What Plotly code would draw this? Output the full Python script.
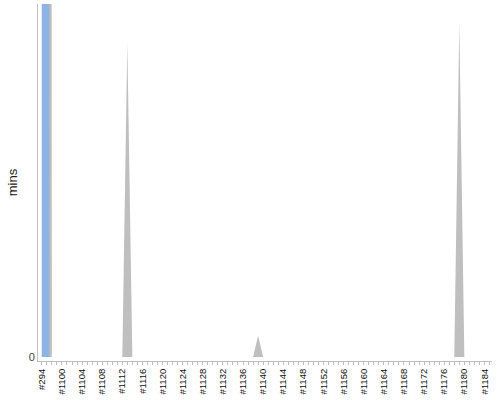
import plotly.graph_objects as go

# builds on the x axis: one old build, then a consecutive run
builds = ["#294"] + ["#%d" % n for n in range(1097, 1186)]

# minutes per build (first two go far off the top)
waiting = [2400, 2400] + [0] * (len(builds) - 2)
building = [0] * len(builds)
building[0] = 2400
building[1] = 2400
building[builds.index("#1113")] = 89
building[builds.index("#1139")] = 6
building[builds.index("#1179")] = 94.6

tick_text = [b if i % 4 == 0 else "" for i, b in enumerate(builds)]

fig = go.Figure()
fig.add_trace(go.Scatter(x=builds, y=building, name="building", mode="none",
                         fill="tozeroy", fillcolor="#bfbfbf"))
fig.add_trace(go.Scatter(x=builds, y=waiting, name="waiting", mode="none",
                         fill="tozeroy", fillcolor="#8db4e2", line_shape="hvh"))

fig.update_layout(
    width=500, height=400,
    margin=dict(l=38, r=8, t=4, b=39),
    paper_bgcolor="white", plot_bgcolor="white",
    showlegend=False,
    font=dict(family="Liberation Sans, Arial, sans-serif", color="#222222"),
)
fig.update_xaxes(
    type="category", range=[-0.76, 89.5], automargin=False,
    tickmode="array", tickvals=builds, ticktext=tick_text,
    tickangle=-90, tickfont=dict(size=9.5, color="#111111"),
    ticks="outside", ticklen=3, tickcolor="#c0c0c0",
    showline=True, linecolor="#c0c0c0", showgrid=False, zeroline=False,
)
fig.update_yaxes(
    range=[-1.13, 100], automargin=False,
    tickmode="array", tickvals=[0], ticktext=["0"],
    tickfont=dict(size=11, color="#444444"),
    showline=True, linecolor="#c0c0c0", showgrid=False, zeroline=False,
    title=dict(text="mins", font=dict(size=13, color="#222222"), standoff=8),
)

# page body has a default 8px margin; drop it so the chart sits at 0,0
fig.write_html("out.html", config={"displayModeBar": False},
               post_script="document.body.style.margin='0';")
